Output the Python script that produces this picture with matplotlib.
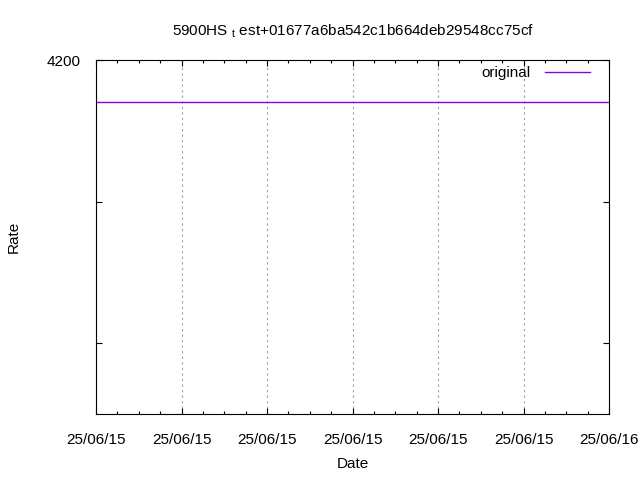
import datetime as dt
import matplotlib
matplotlib.use("Agg")
import matplotlib.pyplot as plt
import matplotlib.dates as mdates
from matplotlib.ticker import FixedLocator

plt.rcParams['font.family'] = ['Liberation Sans', 'DejaVu Sans']
plt.rcParams['mathtext.fontset'] = 'custom'
plt.rcParams['mathtext.rm'] = 'Liberation Sans'
plt.rcParams['font.size'] = 11

# データ
dates = [dt.datetime(2025, 6, 15, 23, 0) + dt.timedelta(minutes=10 * i) for i in range(7)]
rates = [4194, 4194, 4194, 4194, 4194, 4194, 4194]
series_label = "original"
title = r"5900HS $_{\rm t}$ est+01677a6ba542c1b664deb29548cc75cf"
y_ticks = [4160, 4180, 4200]
y_ticklabels = ["", "", "4200"]

fig = plt.figure(figsize=(6.4, 4.8), dpi=100)
ax = fig.add_axes([0.15, 0.1375, 0.8016, 0.7375])

ax.plot(dates, rates, color="#9400d3", linewidth=1.0, label=series_label)

ax.set_xlim(dates[0], dates[-1])
ax.set_ylim(4150, 4200)
ax.set_yticks(y_ticks)
ax.set_yticklabels(y_ticklabels)

# 目盛り
ax.xaxis.set_major_locator(mdates.MinuteLocator(byminute=range(0, 60, 10)))
minor = [mdates.date2num(dates[0] + dt.timedelta(seconds=150 * k)) for k in range(25)]
ax.xaxis.set_minor_locator(FixedLocator(minor))
ax.xaxis.set_major_formatter(mdates.DateFormatter("%y/%m/%d"))

ax.tick_params(which="both", direction="in", top=True, right=True, length=4, width=0.8, pad=14)
ax.tick_params(which="minor", length=2.5)
ax.tick_params(axis="y", pad=11)
ax.grid(axis="x", which="major", color="#a0a0a0", linestyle=(0, (2, 3)), linewidth=0.8)

ax.set_title(title, fontsize=11, pad=18)
ax.set_xlabel("Date")
ax.set_ylabel("Rate")
ax.xaxis.set_label_coords(0.5, -0.122)
ax.yaxis.set_label_coords(-0.146, 0.5)

ax.legend(loc="upper right", frameon=False, markerfirst=False, handlelength=2.95,
          borderaxespad=0, handletextpad=0.92, borderpad=0,
          bbox_to_anchor=(0.963, 0.983))

fig.savefig("out.png", dpi=100)
